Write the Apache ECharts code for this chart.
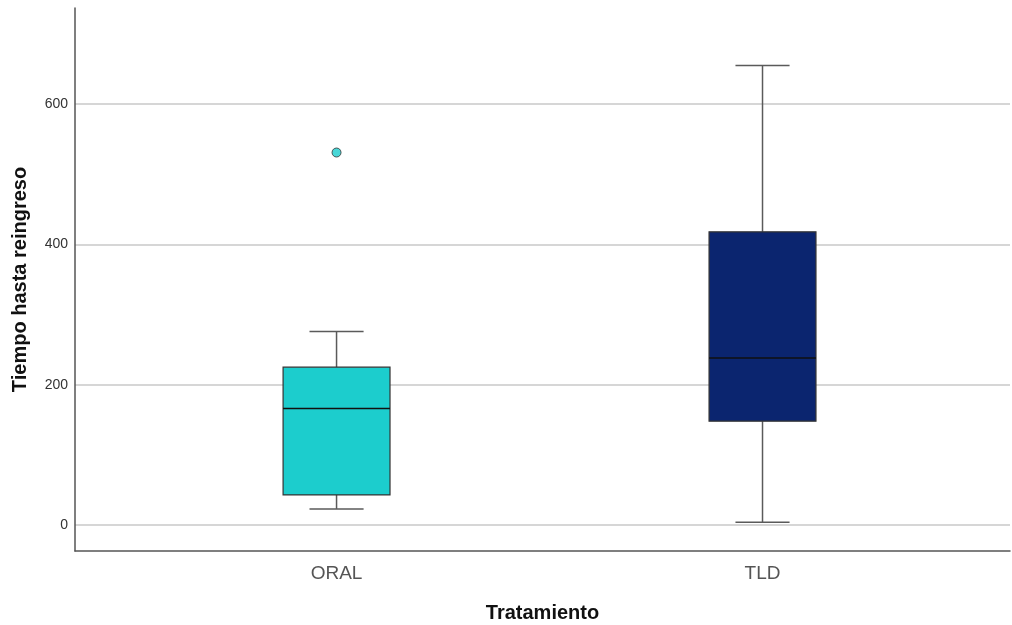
<!DOCTYPE html>
<html>
<head>
<meta charset="utf-8">
<script src="https://cdn.jsdelivr.net/npm/echarts@6/dist/echarts.min.js"></script>
<style>html,body{margin:0;padding:0;background:#fff;}#c{width:1012px;height:625px;}</style>
</head>
<body>
<div id="c"></div>
<script>
// Data
const categories = ['ORAL', 'TLD'];
// [low whisker, Q1, median, Q3, high whisker]
const oralStats = [23, 43, 166, 225, 276];
const tldStats = [4, 148, 238, 418, 655];
const oralOutliers = [531];
const tldOutliers = [];
const yTicks = [0, 200, 400, 600];
const boxColors = ['#1ccdcd', '#0b256f'];

const statsList = [oralStats, tldStats];
const boxData = statsList.map((s, i) => [i].concat(s));
const outlierData = [];
oralOutliers.forEach(v => outlierData.push([0, v]));
tldOutliers.forEach(v => outlierData.push([1, v]));

const FONT = '"Liberation Sans", Arial, sans-serif';
const BOX_W = 0.251, CAP_W = 0.127;

function renderItem(params, api) {
  const x = api.value(0);
  const lo = api.coord([x, api.value(1)]);
  const q1 = api.coord([x, api.value(2)]);
  const med = api.coord([x, api.value(3)]);
  const q3 = api.coord([x, api.value(4)]);
  const hi = api.coord([x, api.value(5)]);
  const bw = api.size([BOX_W, 0])[0];
  const cw = api.size([CAP_W, 0])[0];
  const cx = lo[0];
  const wStyle = { stroke: '#5a5a5a', lineWidth: 1.5 };
  return {
    type: 'group',
    children: [
      { type: 'line', shape: { x1: cx, y1: hi[1], x2: cx, y2: q3[1] }, style: wStyle },
      { type: 'line', shape: { x1: cx, y1: q1[1], x2: cx, y2: lo[1] }, style: wStyle },
      { type: 'line', shape: { x1: cx - cw / 2, y1: hi[1], x2: cx + cw / 2, y2: hi[1] }, style: wStyle },
      { type: 'line', shape: { x1: cx - cw / 2, y1: lo[1], x2: cx + cw / 2, y2: lo[1] }, style: wStyle },
      { type: 'rect', shape: { x: cx - bw / 2, y: q3[1], width: bw, height: q1[1] - q3[1] },
        style: { fill: boxColors[params.dataIndex], stroke: '#333', lineWidth: 1.2 } },
      { type: 'line', shape: { x1: cx - bw / 2, y1: med[1], x2: cx + bw / 2, y2: med[1] },
        style: { stroke: '#111', lineWidth: 1.5 } }
    ]
  };
}

const chart = echarts.init(document.getElementById('c'));
chart.setOption({
  backgroundColor: '#fff',
  animation: false,
  grid: { left: 75, right: 2, top: 8, bottom: 74, containLabel: false, outerBoundsMode: 'none' },
  xAxis: {
    type: 'value', min: -0.614, max: 1.581,
    axisLine: { show: true, onZero: false, lineStyle: { color: '#555', width: 1.5 } },
    axisTick: { show: false },
    splitLine: { show: false },
    axisLabel: {
      customValues: [0, 1],
      formatter: v => categories[Math.round(v)],
      fontSize: 19, color: '#555', fontFamily: FONT, margin: 13
    },
    name: 'Tratamiento', nameLocation: 'middle', nameGap: 52,
    nameTextStyle: { fontSize: 20, fontWeight: 'bold', color: '#111', fontFamily: FONT }
  },
  yAxis: {
    type: 'value', min: -37, max: 737,
    axisLine: { show: true, onZero: false, lineStyle: { color: '#555', width: 1.5 } },
    axisTick: { show: false, customValues: yTicks },
    axisLabel: { customValues: yTicks, fontSize: 14, color: '#333', fontFamily: FONT, margin: 7 },
    splitLine: { show: true, lineStyle: { color: '#c8c8c8', width: 1.5 } },
    name: 'Tiempo hasta reingreso', nameLocation: 'middle', nameGap: 45,
    nameTextStyle: { fontSize: 20, fontWeight: 'bold', color: '#111', fontFamily: FONT }
  },
  series: [
    {
      type: 'custom', renderItem: renderItem, data: boxData,
      encode: { x: 0, y: [1, 2, 3, 4, 5] }, z: 3
    },
    {
      type: 'scatter', data: outlierData, symbol: 'circle', symbolSize: 9, z: 4,
      itemStyle: { color: boxColors[0], borderColor: '#333', borderWidth: 1 }
    }
  ]
});
</script>
</body>
</html>
